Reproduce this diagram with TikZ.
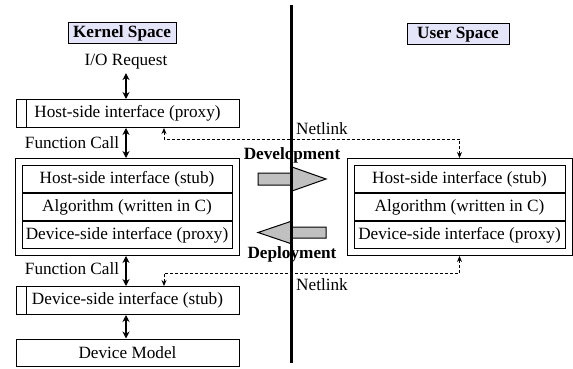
\documentclass[tikz,border=0pt]{standalone}
\usepackage{fontspec}
\setmainfont{Liberation Serif}
\usepackage[svgnames]{xcolor}
\usepackage{tikz}
\usetikzlibrary{
  positioning,
  fit,
  arrows.meta
}
\tikzset{
  every node/.style={font=\fontsize{17.2}{20}\selectfont},
  space label/.style={draw,line width=1pt,fill=spacefill,inner sep=0pt,minimum height=21pt,
    font=\fontsize{17.2}{20}\selectfont\bfseries},
  layer box/.style={draw,line width=1pt,minimum width=223pt,minimum height=28pt,inner sep=0pt},
  stack row/.style={draw,line width=1pt,minimum width=210pt,minimum height=27pt,inner sep=0pt},
  stack frame/.style={draw,line width=1pt,inner sep=6.5pt},
  call/.style={{Stealth[length=7pt,width=7pt]}-{Stealth[length=7pt,width=7pt]},line width=1.3pt},
  netlink/.style={densely dashed,thick,{Stealth[length=6pt,width=5pt]}-{Stealth[length=6pt,width=5pt]}},
  shift arrow/.style={draw,line width=1pt,fill=arrowfill},
  shift label/.style={font=\fontsize{17.2}{20}\selectfont\bfseries},
}
\colorlet{spacefill}{Lavender}
\colorlet{arrowfill}{Silver}

\begin{document}
\begin{tikzpicture}[x=1pt,y=-1pt]
\useasboundingbox (0,0) rectangle (573,369);

\node[space label,minimum width=108pt] (kernel) at (122,33.5) {Kernel Space};
\node[space label,minimum width=102pt] (user) at (458,34.5) {User Space};

% kernel side
\node (io) at (126,62) {I/O Request};
\node[layer box] (hproxy) at (127.5,113.5) {Host-side interface (proxy)};
\draw[line width=1pt] ([xshift=11pt]hproxy.north west) -- ([xshift=11pt]hproxy.south west);
\node (fcup) at (72,143) {Function Call};

\node[stack row] (kstub) at (127,179) {Host-side interface (stub)};
\node[stack row,below=0pt of kstub] (kalg) {Algorithm (written in C)};
\node[stack row,below=0pt of kalg] (kdev) {Device-side interface (proxy)};
\node[stack frame,fit=(kstub)(kdev)] (kstack) {};

\node (fcdown) at (72,269) {Function Call};
\node[layer box] (dstub) at (127.5,300.5) {Device-side interface (stub)};
\draw[line width=1pt] ([xshift=11pt]dstub.north west) -- ([xshift=11pt]dstub.south west);
\node[layer box,minimum height=27pt] (dmodel) at (127.5,352.5) {Device Model};

\draw[call] (io.south) -- (io.south |- hproxy.north);
\draw[call] (hproxy.south -| io) -- (kstack.north -| io);
\draw[call] (kstack.south -| io) -- (dstub.north -| io);
\draw[call] (dstub.south -| io) -- (dmodel.north -| io);

% user side
\node[stack row,minimum width=211pt] (ustub) at (459.5,179) {Host-side interface (stub)};
\node[stack row,minimum width=211pt,below=0pt of ustub] (ualg) {Algorithm (written in C)};
\node[stack row,minimum width=211pt,below=0pt of ualg] (udev) {Device-side interface (proxy)};
\node[stack frame,fit=(ustub)(udev)] (ustack) {};

% netlink channels
\coordinate (nlup) at (164,139);
\coordinate (nldown) at (164,273.5);
\draw[netlink] (hproxy.south -| nlup) -- (nlup) -| (ustack.north);
\draw[netlink] (dstub.north -| nldown) -- (nldown) -| (ustack.south);
\node (nlabelup) at (322,129) {Netlink};
\node (nlabeldown) at (322,285) {Netlink};

% development / deployment
\node[shift label] (dev) at (292,155) {Development};
\node[shift label] (dep) at (292,254) {Deployment};
\draw[shift arrow] (258,173) -- (292,173) -- (292,167) -- (326,179)
  -- (292,191) -- (292,185) -- (258,185) -- cycle;
\draw[shift arrow] (326,227) -- (292,227) -- (292,221) -- (258,232.5)
  -- (292,244) -- (292,238) -- (326,238) -- cycle;

\draw[line width=2.2pt] (291.5,5) -- (291.5,363);
\end{tikzpicture}
\end{document}
